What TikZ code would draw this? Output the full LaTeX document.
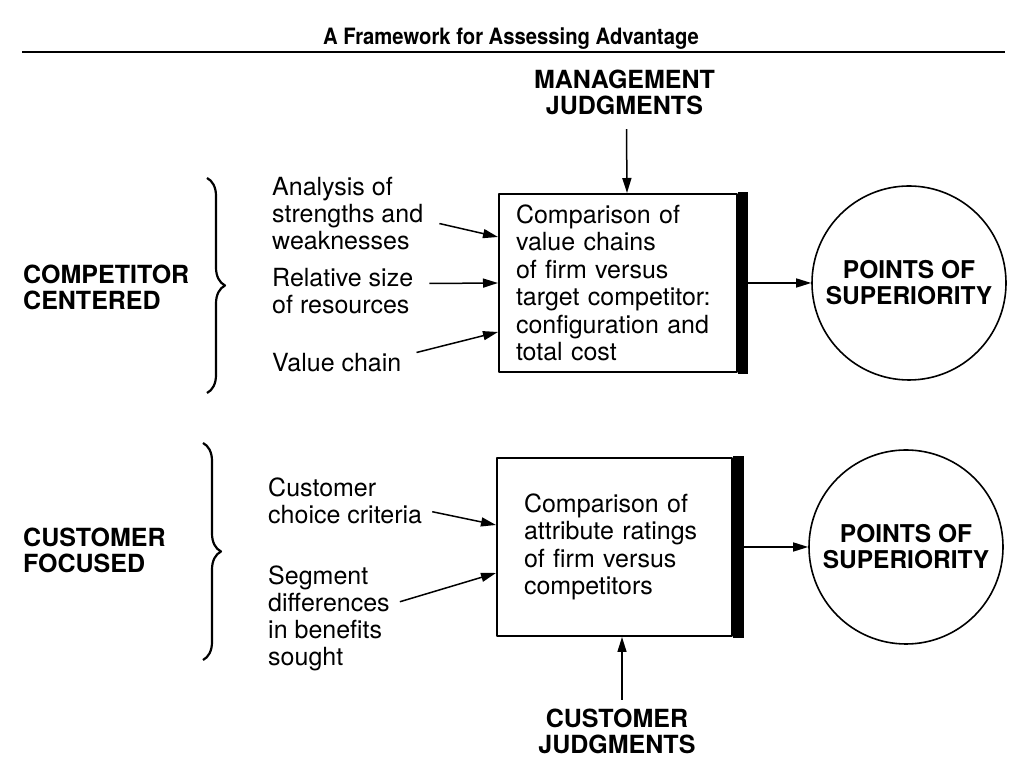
\documentclass[tikz,border=0pt]{standalone}
\usepackage{fontspec}
\setmainfont{TeX Gyre Heros}
\newfontfamily\headfont[FakeStretch=0.9]{TeX Gyre Heros}
\usetikzlibrary{arrows.meta,decorations.pathreplacing}
\begin{document}
\begin{tikzpicture}[x=1pt,y=1pt,>={Stealth[length=15pt,width=9pt,inset=0pt]},line join=round,
    txt/.style={font=\fontsize{25}{27}\selectfont,align=left,inner sep=0pt,anchor=north west},
    caps/.style={font=\bfseries\fontsize{25}{26}\selectfont,align=left,inner sep=0pt},
    cmp/.style={draw,line width=2pt,inner sep=0pt,font=\fontsize{25}{27.5}\selectfont,align=left,minimum height=178pt},
    sup/.style={circle,draw,line width=1.6pt,minimum size=194pt,inner sep=0pt,font=\bfseries\fontsize{24.5}{26}\selectfont,align=center},
    arr/.style={->,line width=1.5pt},
    brc/.style={decorate,decoration={brace,amplitude=18pt},line width=2.2pt}]
    \useasboundingbox (0,0) rectangle (1019,767);
    \node[font=\headfont\bfseries\fontsize{22.5}{24}\selectfont,anchor=north,inner sep=0pt] (title) at (511,739) {A Framework for Assessing Advantage};
    \draw[line width=2pt] (22,715) -- (1005,715);
    % competitor centered
    \node[caps,anchor=north,align=center] (mgmt) at (624.5,697) {MANAGEMENT\\JUDGMENTS};
    \node[caps,anchor=north west] (compA) at (23,502) {COMPETITOR\\CENTERED};
    \draw[brc] (207,589) -- (207,374);
    \node[txt] (anA) at (272,590) {Analysis of\\strengths and\\weaknesses};
    \node[txt] (relA) at (272,499) {Relative size\\of resources};
    \node[txt] (vcA) at (272,414) {Value chain};
    \node[cmp,text width=204pt,minimum width=238pt] (boxA) at (618,484)
        {Comparison of\\value chains\\of firm versus\\target competitor:\\configuration and\\total cost};
    \fill ([yshift=1pt]boxA.north east) rectangle ([shift={(10pt,-1pt)}]boxA.south east);
    \node[sup] (supA) at (909,484) {POINTS OF\\SUPERIORITY};
    \draw[arr] ([shift={(2pt,-14pt)}]mgmt.south) -- ([xshift=9pt]boxA.north);
    \draw[arr] ([shift={(16pt,-10pt)}]anA.east) -- ([yshift=46pt]boxA.west);
    \draw[arr] ([shift={(16pt,7.5pt)}]relA.east) -- (boxA.west);
    \draw[arr] ([shift={(15pt,10pt)}]vcA.east) -- ([yshift=-49pt]boxA.west);
    \draw[arr] ([xshift=10pt]boxA.east) -- (supA.west);
    % customer focused
    \node[caps,anchor=north west] (custF) at (23,239) {CUSTOMER\\FOCUSED};
    \draw[brc] (203,324) -- (203,107);
    \node[txt] (cuA) at (268,289) {Customer\\choice criteria};
    \node[txt] (segA) at (268,201) {Segment\\differences\\in benefits\\sought};
    \node[cmp,text width=181pt,minimum width=235pt] (boxB) at (614.5,220)
        {Comparison of\\attribute ratings\\of firm versus\\competitors};
    \fill ([yshift=1pt]boxB.north east) rectangle ([shift={(11pt,-1pt)}]boxB.south east);
    \node[sup] (supB) at (906,220) {POINTS OF\\SUPERIORITY};
    \node[caps,anchor=north,align=center] (custJ) at (617,58) {CUSTOMER\\JUDGMENTS};
    \draw[arr] ([shift={(10pt,-10.5pt)}]cuA.east) -- ([yshift=22pt]boxB.west);
    \draw[arr] ([shift={(10pt,17pt)}]segA.east) -- ([yshift=-26pt]boxB.west);
    \draw[arr] ([xshift=11pt]boxB.east) -- (supB.west);
    \draw[arr] ([shift={(5pt,9pt)}]custJ.north) -- ([xshift=7.5pt]boxB.south);
\end{tikzpicture}
\end{document}
